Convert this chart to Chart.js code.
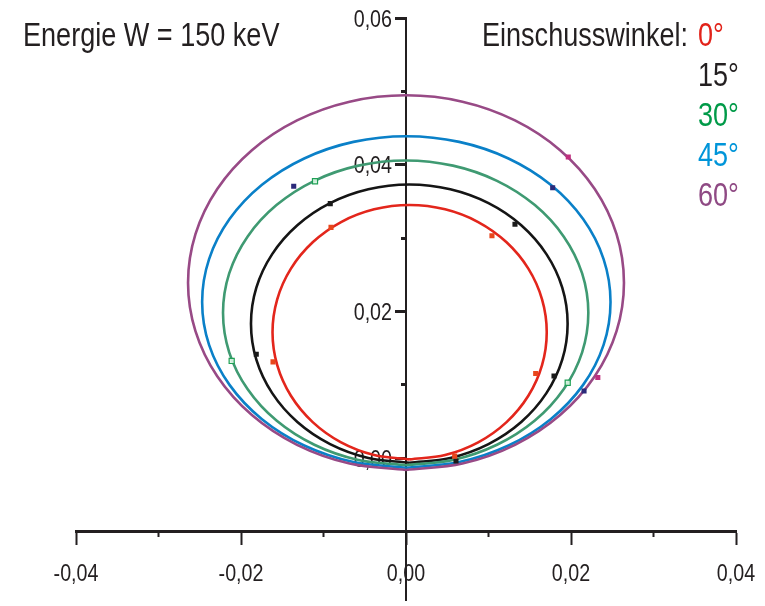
<!DOCTYPE html>
<html lang="de">
<head>
<meta charset="utf-8">
<title>Energie W = 150 keV</title>
<script src="https://cdn.jsdelivr.net/npm/chart.js@4.4.1/dist/chart.umd.min.js"></script>
<style>
  html, body { margin: 0; padding: 0; background: #fff; }
  #wrap { width: 765px; height: 606px; }
</style>
</head>
<body>
<div id="wrap"><canvas id="chart" width="765" height="606"></canvas></div>
<script>
const FONT = '"Liberation Sans", Arial, "Helvetica", sans-serif';
const NARROW = 0.82; // the figure uses a condensed grotesque
const INK = "#231f20";

const energyTitle = "Energie W = 150 keV";
const legendTitle = "Einschusswinkel:";
const angles = ["0°", "15°", "30°", "45°", "60°"];
const lineColors = ["#e3261c", "#151515", "#3f9a72", "#0a80c8", "#984a86"];
const labelColors = ["#e2231a", "#231f20", "#009a48", "#0095d9", "#8f4a84"];
const markColors = ["#e8461c", "#1a1a1a", "#1fa055", "#2b2a7a", "#c02f7e"];

const xMajor = [-0.04, -0.02, 0, 0.02, 0.04];
const xMinor = [-0.03, -0.01, 0.01, 0.03];
const yMajor = [0, 0.02, 0.04, 0.06];
const yMinor = [-0.01, 0.01, 0.03, 0.05];

// curves, read around each loop starting at the bottom
const ring0X = [0.00044, 0.00474, 0.00875, 0.01219, 0.01483, 0.01649, 0.01706, 0.01649, 0.01483, 0.01219, 0.00875, 0.00474, 0.00044, -0.00386, -0.00787, -0.01131, -0.01395, -0.01561, -0.01618, -0.01561, -0.01395, -0.01131, -0.00787, -0.00386, 0.00044];
const ring0Y = [-0.00018, 0.00041, 0.00214, 0.0049, 0.00849, 0.01267, 0.01716, 0.02165, 0.02583, 0.02942, 0.03218, 0.03391, 0.0345, 0.03391, 0.03218, 0.02942, 0.02583, 0.02165, 0.01716, 0.01267, 0.00849, 0.0049, 0.00214, 0.00041, -0.00018];
const ring15X = [0.0004, 0.00537, 0.01, 0.01397, 0.01702, 0.01894, 0.01959, 0.01894, 0.01702, 0.01397, 0.01, 0.00537, 0.0004, -0.00457, -0.0092, -0.01317, -0.01622, -0.01814, -0.01879, -0.01814, -0.01622, -0.01317, -0.0092, -0.00457, 0.0004];
const ring15Y = [-0.00063, 0.00002, 0.00191, 0.00492, 0.00885, 0.01342, 0.01833, 0.02324, 0.02781, 0.03174, 0.03475, 0.03664, 0.03729, 0.03664, 0.03475, 0.03174, 0.02781, 0.02324, 0.01833, 0.01342, 0.00885, 0.00492, 0.00191, 0.00002, -0.00063];
const ring30X = [-0.00004, 0.00569, 0.01103, 0.01562, 0.01913, 0.02135, 0.0221, 0.02135, 0.01913, 0.01562, 0.01103, 0.00569, -0.00004, -0.00577, -0.01111, -0.0157, -0.01921, -0.02143, -0.02218, -0.02143, -0.01921, -0.0157, -0.01111, -0.00577, -0.00004];
const ring30Y = [-0.00098, -0.00027, 0.00181, 0.00511, 0.00941, 0.01442, 0.0198, 0.02518, 0.03019, 0.03449, 0.0378, 0.03987, 0.04058, 0.03987, 0.0378, 0.03449, 0.03019, 0.02518, 0.0198, 0.01442, 0.00941, 0.00511, 0.00181, -0.00027, -0.00098];
const ring45X = [0.00004, 0.00645, 0.01242, 0.01754, 0.02147, 0.02395, 0.02479, 0.02395, 0.02147, 0.01754, 0.01242, 0.00645, 0.00004, -0.00637, -0.01234, -0.01746, -0.02139, -0.02387, -0.02471, -0.02387, -0.02139, -0.01746, -0.01234, -0.00637, 0.00004];
const ring45Y = [-0.00132, -0.00055, 0.00171, 0.0053, 0.00998, 0.01543, 0.02128, 0.02713, 0.03258, 0.03726, 0.04085, 0.04311, 0.04388, 0.04311, 0.04085, 0.03726, 0.03258, 0.02713, 0.02128, 0.01543, 0.00998, 0.0053, 0.00171, -0.00055, -0.00132];
const ring60X = [0, 0.00684, 0.01321, 0.01868, 0.02288, 0.02552, 0.02642, 0.02552, 0.02288, 0.01868, 0.01321, 0.00684, 0, -0.00684, -0.01321, -0.01868, -0.02288, -0.02552, -0.02642, -0.02552, -0.02288, -0.01868, -0.01321, -0.00684, 0];
const ring60Y = [-0.00162, -0.00075, 0.0018, 0.00586, 0.01115, 0.01731, 0.02392, 0.03053, 0.03669, 0.04198, 0.04604, 0.04859, 0.04946, 0.04859, 0.04604, 0.04198, 0.03669, 0.03053, 0.02392, 0.01731, 0.01115, 0.00586, 0.0018, -0.00075, -0.00162];

// measured points (small squares)
const dots0X = [-0.00909, 0.01042, -0.01612, 0.01572, 0.0059];
const dots0Y = [0.03145, 0.03031, 0.01311, 0.01153, 0.00027];
const dots15X = [-0.00918, 0.01321, -0.01815, 0.01794, 0.00606];
const dots15Y = [0.03469, 0.03189, 0.01415, 0.01118, -0.00041];
const dots30X = [-0.01103, -0.02113, 0.0196];
const dots30Y = [0.03774, 0.01324, 0.01027];
const dots45X = [-0.01361, 0.01778, 0.02158];
const dots45Y = [0.03707, 0.03685, 0.00915];
const dots60X = [0.01967, 0.02325];
const dots60Y = [0.04104, 0.01099];

const rings = [[ring0X, ring0Y], [ring15X, ring15Y], [ring30X, ring30Y], [ring45X, ring45Y], [ring60X, ring60Y]];
const dots = [[dots0X, dots0Y], [dots15X, dots15Y], [dots30X, dots30Y], [dots45X, dots45Y], [dots60X, dots60Y]];

function toPoints(xs, ys) {
  return xs.map((x, i) => ({ x, y: ys[i] }));
}

function fmt(v) {
  return v.toFixed(2).replace(".", ",");
}

function narrowText(ctx, text, x, y, align, size, color) {
  ctx.save();
  ctx.font = `${size}px ${FONT}`;
  ctx.fillStyle = color;
  ctx.textAlign = align;
  ctx.textBaseline = "alphabetic";
  ctx.translate(x, y);
  ctx.scale(NARROW, 1);
  ctx.fillText(text, 0, 0);
  ctx.restore();
}

const datasets = [];
rings.forEach(([xs, ys], i) => {
  datasets.push({
    label: angles[i],
    data: toPoints(xs, ys),
    showLine: true,
    borderColor: lineColors[i],
    borderWidth: 2.6,
    pointRadius: 0,
    tension: 0.34,
    fill: false,
    order: 10 - i,
  });
});
dots.forEach(([xs, ys], i) => {
  datasets.push({
    label: angles[i] + " Messung",
    data: toPoints(xs, ys),
    showLine: false,
    pointStyle: "rect",
    pointRadius: 3.6,
    backgroundColor: i === 2 ? "rgba(220,245,228,0.9)" : markColors[i],
    borderColor: markColors[i],
    borderWidth: i === 2 ? 1.2 : 0,
    order: 0,
  });
});

function axis(dir, values, tickLength, tickWidth, borderWidth) {
  const horizontal = dir === "x";
  return {
    type: "linear",
    min: horizontal ? -0.04 : -0.01946,
    max: horizontal ? 0.04 : 0.06,
    position: horizontal ? { y: -0.01 } : { x: 0 },
    afterBuildTicks(scale) {
      scale.ticks = values.map((v) => ({ value: v }));
    },
    afterFit(scale) {
      if (horizontal) scale.height = 0;
      else scale.width = 0;
      scale.paddingLeft = 0;
      scale.paddingRight = 0;
      scale.paddingTop = 0;
      scale.paddingBottom = 0;
    },
    grid: {
      drawOnChartArea: false,
      tickLength,
      tickWidth,
      tickColor: INK,
    },
    border: {
      display: borderWidth > 0,
      color: INK,
      width: borderWidth || 1,
    },
    ticks: { display: false },
  };
}

// tick labels go under the axes and curves, like in the figure
const tickLabelPlugin = {
  id: "tickLabels",
  beforeDraw(chart) {
    const { ctx, scales } = chart;
    const axisX = scales.y.getPixelForValue(-0.01);
    const axisY = scales.x.getPixelForValue(0);
    xMajor.forEach((v) => {
      narrowText(ctx, fmt(v), scales.x.getPixelForValue(v), axisX + 50, "center", 24, INK);
    });
    yMajor.forEach((v) => {
      narrowText(ctx, fmt(v), axisY - 14, scales.y.getPixelForValue(v) + 8.6, "right", 24, INK);
    });
  },
};

const textPlugin = {
  id: "texts",
  afterDraw(chart) {
    const ctx = chart.ctx;
    narrowText(ctx, energyTitle, 23, 46, "left", 33, INK);
    narrowText(ctx, legendTitle, 688, 46, "right", 33, INK);
    angles.forEach((a, i) => {
      narrowText(ctx, a, 698, 46 + i * 40, "left", 33, labelColors[i]);
    });
  },
};

new Chart(document.getElementById("chart"), {
  type: "scatter",
  data: { datasets },
  options: {
    responsive: false,
    animation: false,
    layout: { padding: { left: 76, right: 29, top: 18, bottom: 0 } },
    plugins: {
      legend: { display: false },
      tooltip: { enabled: false },
    },
    scales: {
      y: axis("y", yMajor, 10, 3, 2),
      yMinor: axis("y", yMinor, 5, 3, 0),
      x: axis("x", xMajor, 12, 2, 3),
      xMinor: axis("x", xMinor, 6, 2, 0),
    },
  },
  plugins: [tickLabelPlugin, textPlugin],
});
</script>
</body>
</html>
